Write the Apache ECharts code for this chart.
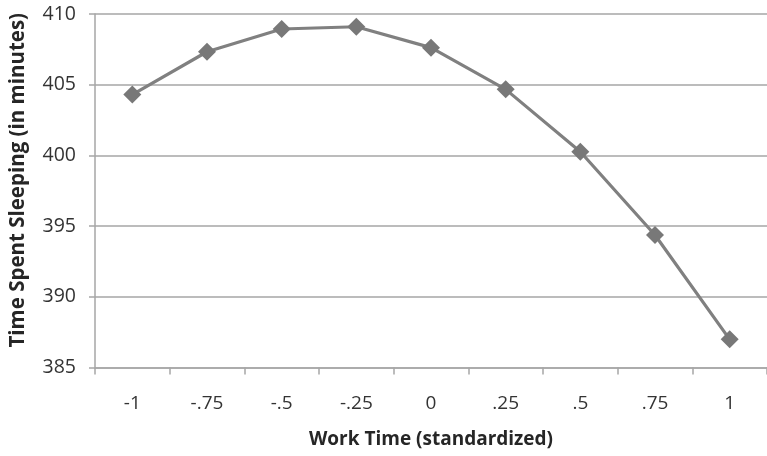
<!DOCTYPE html>
<html>
<head>
<meta charset="utf-8">
<style>
  html, body { margin: 0; padding: 0; background: #ffffff; }
  #chart { width: 767px; height: 456px; }
</style>
<script src="https://cdn.jsdelivr.net/npm/echarts@6/dist/echarts.min.js"></script>
</head>
<body>
<div id="chart"></div>
<script>
// Standardized work time categories and predicted minutes of sleep
const workTime = ['-1', '-.75', '-.5', '-.25', '0', '.25', '.5', '.75', '1'];
const sleepMinutes = [404.3, 407.33, 408.94, 409.1, 407.62, 404.67, 400.26, 394.37, 386.99];
const yTicks = { min: 385, max: 410, step: 5 };

const FONT = '"Open Sans", sans-serif';
const chart = echarts.init(document.getElementById('chart'), null, { renderer: 'canvas' });

chart.setOption({
  animation: false,
  backgroundColor: '#ffffff',
  grid: { left: 92, top: 14, right: -4, bottom: 88.5, containLabel: false },
  xAxis: {
    type: 'category',
    data: workTime,
    boundaryGap: true,
    name: 'Work Time (standardized)',
    nameLocation: 'middle',
    nameGap: 63,
    nameTextStyle: { fontFamily: FONT, fontSize: 19, fontWeight: 'bold', color: '#262626' },
    axisLine: { lineStyle: { color: '#a6a6a6', width: 1.5 } },
    axisTick: { show: true, length: 7, alignWithLabel: false, lineStyle: { color: '#a6a6a6', width: 1.5 } },
    axisLabel: { margin: 27, fontFamily: FONT, fontSize: 19, color: '#333333' },
    splitLine: { show: false }
  },
  yAxis: {
    type: 'value',
    min: yTicks.min,
    max: yTicks.max,
    interval: yTicks.step,
    name: 'Time Spent Sleeping (in minutes)',
    nameLocation: 'middle',
    nameGap: 66,
    nameTextStyle: {
      fontFamily: FONT, fontSize: 20.5, fontWeight: 'bold', color: '#262626',
      padding: [0, 0, 0, 21]
    },
    axisLine: { show: true, lineStyle: { color: '#a6a6a6', width: 1.5 } },
    axisTick: { show: true, length: 6, lineStyle: { color: '#a6a6a6', width: 1.5 } },
    axisLabel: { margin: 19, fontFamily: FONT, fontSize: 19.5, color: '#333333' },
    splitLine: { show: true, lineStyle: { color: '#a6a6a6', width: 1.5 } }
  },
  series: [{
    type: 'line',
    data: sleepMinutes,
    symbol: 'diamond',
    symbolSize: 18,
    lineStyle: { color: '#808080', width: 3.2 },
    itemStyle: { color: '#787878' }
  }]
});
</script>
</body>
</html>
